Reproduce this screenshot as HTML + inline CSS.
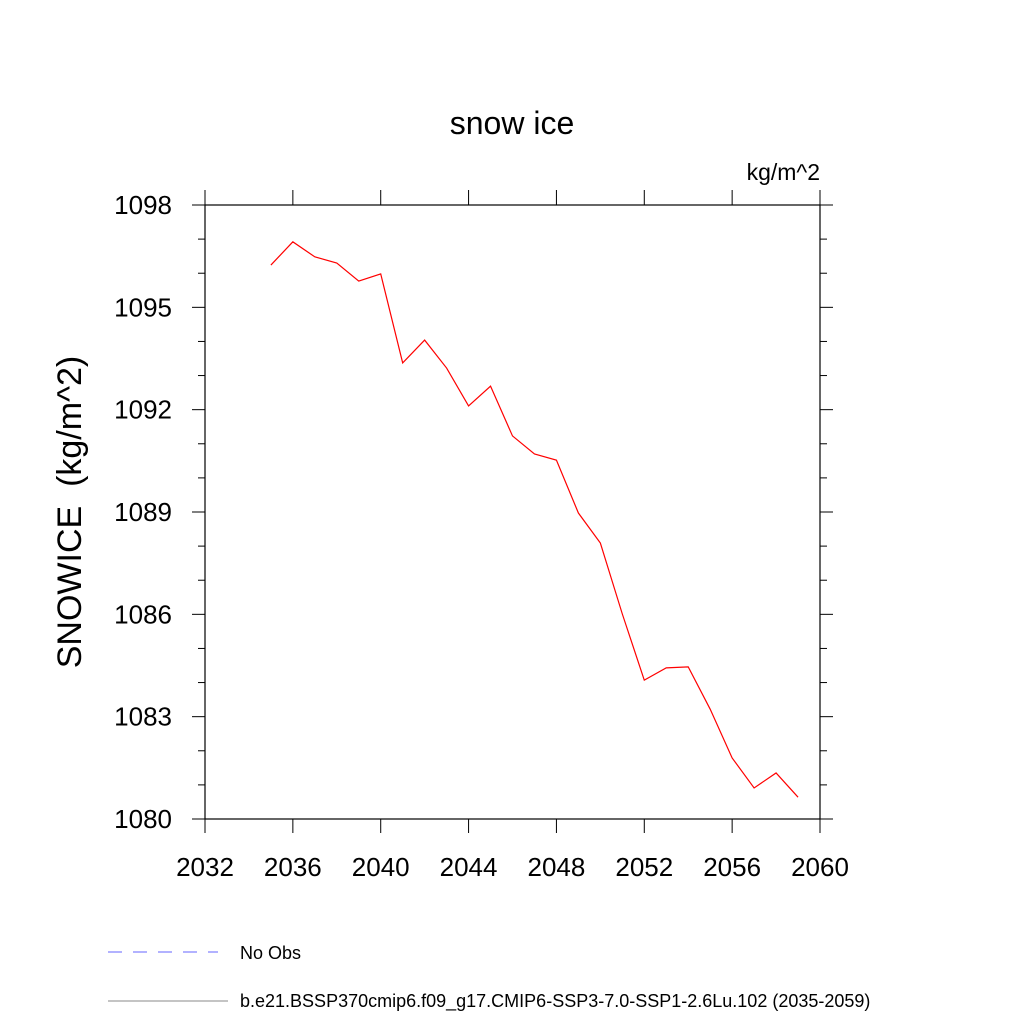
<!DOCTYPE html>
<html><head><meta charset="utf-8"><style>
body{margin:0;background:#fff;}
svg text{font-family:"Liberation Sans",sans-serif;}
</style></head><body>
<svg width="1024" height="1024">
<g id="axes"></g>
<text x="512" y="134" text-anchor="middle" font-size="32">snow ice</text>
<text x="820" y="180" text-anchor="end" font-size="23">kg/m^2</text>
<text transform="translate(81,512) rotate(-90)" text-anchor="middle" font-size="34" xml:space="preserve" style="white-space:pre">SNOWICE  (kg/m^2)</text>
<g>
<line x1="108" y1="952" x2="218" y2="952" stroke="#6464ff" stroke-dasharray="14,11"/>
<text x="240" y="959" font-size="18">No Obs</text>
<line x1="108" y1="1001" x2="228" y2="1001" stroke="#888"/>
<text x="240" y="1007" font-size="18">b.e21.BSSP370cmip6.f09_g17.CMIP6-SSP3-7.0-SSP1-2.6Lu.102 (2035-2059)</text>
</g>
</svg>
<script>
const years=[2035,2036,2037,2038,2039,2040,2041,2042,2043,2044,2045,2046,2047,2048,2049,2050,2051,2052,2053,2054,2055,2056,2057,2058,2059];
const values=[1096.24,1096.92,1096.48,1096.30,1095.77,1095.98,1093.37,1094.04,1093.22,1092.11,1092.69,1091.23,1090.70,1090.52,1088.97,1088.09,1086.01,1084.07,1084.43,1084.46,1083.22,1081.79,1080.91,1081.35,1080.64];
const xTicks=[2032,2036,2040,2044,2048,2052,2056,2060];
const yTicks=[1080,1083,1086,1089,1092,1095,1098];
const L=205,R=820,T=205,B=819,x0=2032,x1=2060,y0=1080,y1=1098;
const X=v=>L+(v-x0)/(x1-x0)*(R-L);
const Y=v=>B-(v-y0)/(y1-y0)*(B-T);
const NS="http://www.w3.org/2000/svg";
const g=document.getElementById('axes');
function mk(t,a){const e=document.createElementNS(NS,t);for(const k in a)e.setAttribute(k,a[k]);g.appendChild(e);return e;}
const frame=mk('rect',{x:L,y:T,width:R-L,height:B-T,fill:'none',stroke:'#000','stroke-width':1.2});


for(let v=y0;v<=y1;v++){const maj=yTicks.includes(v);const len=maj?13:7;const y=Y(v);
 const a=mk('line',{x1:L-len,y1:y,x2:L,y2:y,stroke:'#000'});
 
 
 const b=mk('line',{x1:R,y1:y,x2:R+len,y2:y,stroke:'#000'});
 
 }
yTicks.forEach(v=>{const t=mk('text',{x:172,y:Y(v)+9,'text-anchor':'end','font-size':26});t.textContent=v;
 
 });
xTicks.forEach(v=>{const x=X(v);
 const a=mk('line',{x1:x,y1:B,x2:x,y2:B+14,stroke:'#000'});
 
 
 const b=mk('line',{x1:x,y1:T-15,x2:x,y2:T,stroke:'#000'});
 
 
 const t=mk('text',{x:x,y:B+57,'text-anchor':'middle','font-size':26});t.textContent=v;
 
 });
const line=mk('polyline',{points:years.map((yr,i)=>X(yr)+','+Y(values[i])).join(' '),fill:'none',stroke:'#ff0000','stroke-width':1.2});


</script>
</body></html>
